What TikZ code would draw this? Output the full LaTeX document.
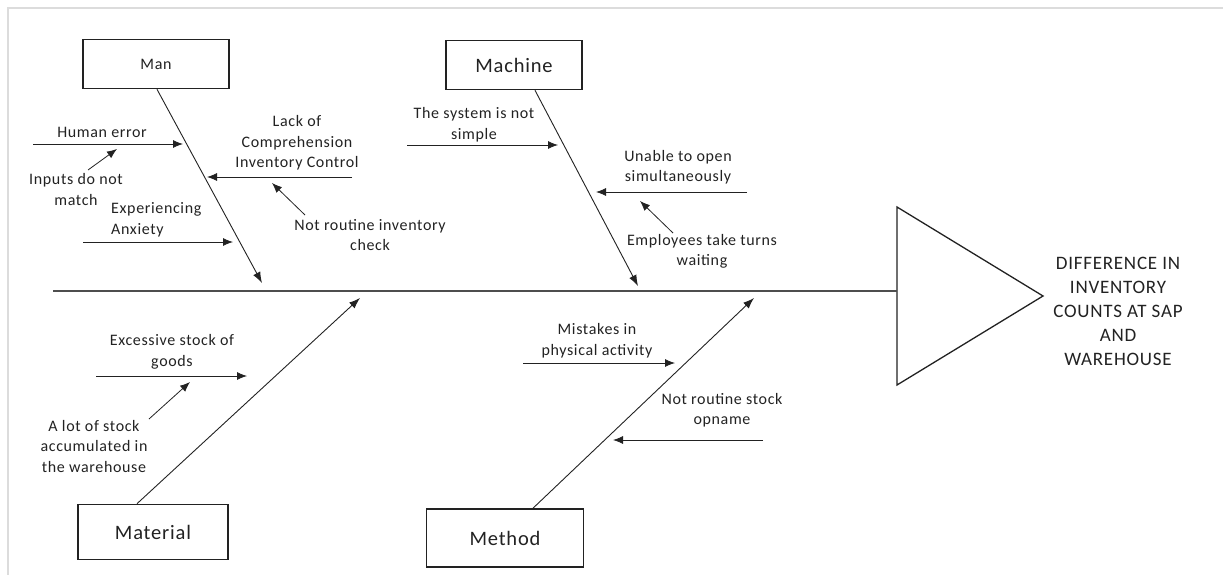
\documentclass[tikz,border=0pt]{standalone}
\usepackage{fontspec}
\setmainfont{Carlito}[LetterSpace=4]
\usetikzlibrary{arrows.meta}
\definecolor{ink}{HTML}{222222}
\definecolor{frame}{HTML}{DCDCDC}
\tikzset{
  lbl/.style={align=center, inner sep=0pt, text=ink, font=\fontsize{16}{20.5}\selectfont},
  catbox/.style={draw=ink, line width=1.6pt, fill=white, minimum height=49pt, inner sep=0pt, text=ink},
  bone/.style={draw=ink, line width=0.9pt, -{Latex[length=11pt,width=8pt]}},
  cause/.style={draw=ink, line width=0.8pt, -{Latex[length=10pt,width=8pt]}},
}
\begin{document}
\begin{tikzpicture}[x=1pt,y=-1pt]
\useasboundingbox (0,0) rectangle (1223,575);
\draw[frame, line width=1.2pt] (8,575) -- (8,8) -- (1223,8);

% head
\coordinate (tA) at (897,207);
\coordinate (tB) at (1043,296);
\coordinate (tC) at (897,385);
\draw[ink, line width=1.3pt] (tA) -- (tB) -- (tC) -- cycle;
\node[lbl, font=\fontsize{19}{24}\selectfont] (effect) at (1118,311)
  {DIFFERENCE IN\\INVENTORY\\COUNTS AT SAP\\AND\\WAREHOUSE};

% spine
\coordinate (s0) at (53,291);
\coordinate (s1) at (897,291);
\draw[ink!80, line width=1.8pt] (s0) -- (s1);

% category boxes
\node[catbox, minimum width=146pt, font=\fontsize{16}{20}\selectfont] (man) at (156,64) {Man};
\node[catbox, minimum width=136pt, font=\fontsize{20.5}{24}\selectfont] (machine) at (514,65) {Machine};
\node[catbox, minimum width=150pt, minimum height=55pt, font=\fontsize{20.5}{24}\selectfont] (material) at (153,532) {Material};
\node[catbox, minimum width=157pt, minimum height=58pt, font=\fontsize{20.5}{24}\selectfont] (method) at (505,538) {Method};

% bone ends
\coordinate (manE) at (262,283);
\coordinate (machE) at (638,286);
\coordinate (matE) at (360,298);
\coordinate (metE) at (754,298);
\draw[bone] (man.south) ++(1,0) coordinate (manS) (manS) -- (manE);
\draw[bone] (machine.south) ++(21,0) coordinate (machS) (machS) -- (machE);
\draw[bone] (material.north) ++(-16,0) coordinate (matS) (matS) -- (matE);
\draw[bone] (method.north) ++(28,0) coordinate (metS) (metS) -- (metE);

% Man causes
\node[lbl] (human) at (102,132) {Human error};
\coordinate (humanA) at (33,144); \coordinate (humanB) at (183,144);
\draw[cause] (humanA) -- (humanB);
\node[lbl] (inputs) at (76,189.5) {Inputs do not\\match};
\coordinate (inA) at (88,170); \coordinate (inB) at (117,149);
\draw[cause] (inA) -- (inB);
\node[lbl] (lack) at (297,143) {Lack of\\Comprehension\\Inventory Control};
\coordinate (lackA) at (352,177); \coordinate (lackB) at (207,177);
\draw[cause] (lackA) -- (lackB);
\node[lbl] (notinv) at (370,235) {Not routine inventory\\check};
\coordinate (niA) at (305,215); \coordinate (niB) at (272,183);
\draw[cause] (niA) -- (niB);
\node[lbl, align=left, anchor=west] (anx) at (111,220) {Experiencing\\Anxiety};
\coordinate (anxA) at (83,242); \coordinate (anxB) at (233,242);
\draw[cause] (anxA) -- (anxB);

% Machine causes
\node[lbl] (system) at (474,124.5) {The system is not\\simple};
\coordinate (sysA) at (407,145); \coordinate (sysB) at (558,145);
\draw[cause] (sysA) -- (sysB);
\node[lbl] (unable) at (678,167) {Unable to open\\simultaneously};
\coordinate (unA) at (747,192); \coordinate (unB) at (596,192);
\draw[cause] (unA) -- (unB);
\node[lbl] (employ) at (702,251.5) {Employees take turns\\waiting};
\coordinate (emA) at (673,233); \coordinate (emB) at (640,201);
\draw[cause] (emA) -- (emB);

% Material causes
\node[lbl] (excess) at (172,352) {Excessive stock of\\goods};
\coordinate (exA) at (96,376); \coordinate (exB) at (247,376);
\draw[cause] (exA) -- (exB);
\node[lbl] (alot) at (94,446) {A lot of stock\\accumulated in\\the warehouse};
\coordinate (alA) at (149,419); \coordinate (alB) at (190,382);
\draw[cause] (alA) -- (alB);

% Method causes
\node[lbl] (mistakes) at (597,340.5) {Mistakes in\\physical activity};
\coordinate (miA) at (523,363); \coordinate (miB) at (675,363);
\draw[cause] (miA) -- (miB);
\node[lbl] (opname) at (722,410) {Not routine stock\\opname};
\coordinate (opA) at (763,440); \coordinate (opB) at (613,440);
\draw[cause] (opA) -- (opB);
\end{tikzpicture}
\end{document}
